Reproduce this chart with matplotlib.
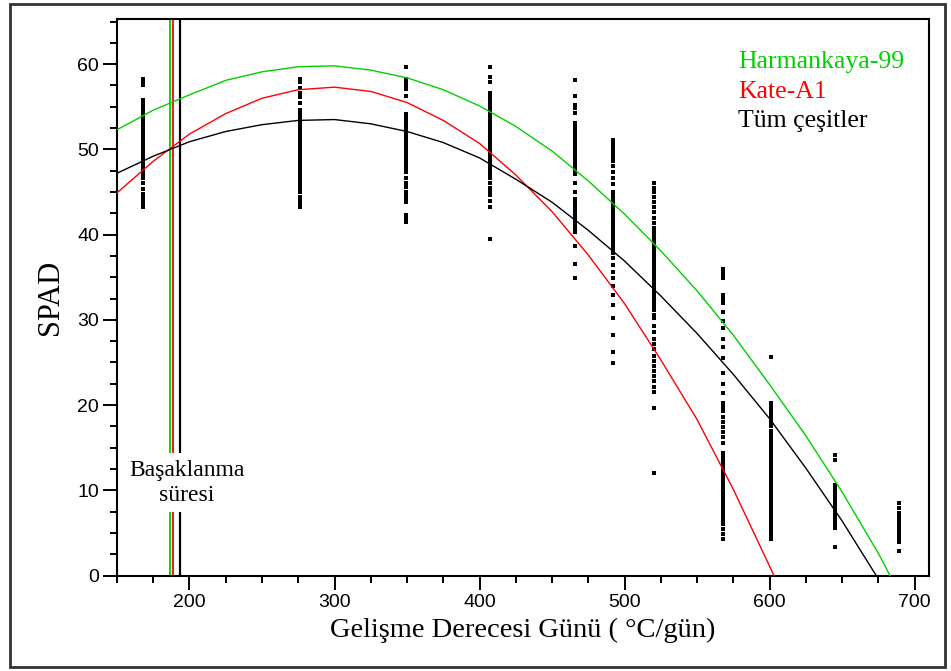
import matplotlib
matplotlib.use("Agg")
import matplotlib.pyplot as plt
from matplotlib.patches import Rectangle

# ---- data ----
col_x = [168, 276, 349, 407, 466, 492, 520, 568, 601, 645, 689]
col_y = [
    [58.3, 57.9, 57.5, 55.8, 55.4, 55.0, 54.6, 54.2, 53.8, 53.4, 53.0, 52.6, 52.2, 51.8, 51.4, 51.0,
     50.6, 50.2, 49.8, 49.4, 49.0, 48.6, 48.2, 47.8, 47.4, 47.0, 46.6, 46.0, 45.4, 44.8, 44.4, 44.0,
     43.6, 43.2],
    [58.3, 57.9, 57.2, 56.6, 56.1, 55.5, 54.6, 54.2, 53.8, 53.4, 53.0, 52.6, 52.2, 51.8, 51.4, 51.1,
     50.6, 50.2, 49.8, 49.4, 49.0, 48.6, 48.2, 47.8, 47.4, 47.0, 46.6, 46.2, 45.8, 45.4, 45.0, 44.4,
     44.0, 43.6, 43.2],
    [59.7, 58.3, 57.9, 57.5, 57.1, 56.3, 54.2, 53.8, 53.4, 53.0, 52.6, 52.2, 51.8, 51.4, 51.0, 50.6,
     50.2, 49.8, 49.4, 49.0, 48.6, 48.2, 47.8, 47.4, 46.7, 46.1, 45.6, 45.0, 44.6, 44.2, 43.8, 42.3,
     41.9, 41.5],
    [59.7, 58.5, 57.9, 56.6, 56.2, 55.8, 55.4, 55.0, 54.6, 54.2, 53.8, 53.4, 53.0, 52.6, 52.2, 51.8,
     51.4, 51.0, 50.6, 50.2, 49.8, 49.4, 49.0, 48.6, 48.2, 47.8, 47.4, 47.0, 46.7, 46.1, 45.5, 45.1,
     44.6, 44.0, 43.2, 39.5],
    [58.1, 56.3, 55.2, 54.8, 54.3, 53.1, 52.7, 52.3, 51.9, 51.5, 51.1, 50.7, 50.3, 49.9, 49.5, 49.1,
     48.7, 48.3, 47.9, 47.5, 47.1, 46.1, 45.0, 44.2, 43.8, 43.4, 43.0, 42.6, 42.2, 41.8, 41.4, 41.0,
     40.6, 40.3, 38.7, 36.6, 34.9],
    [51.1, 50.7, 50.3, 49.9, 49.5, 49.1, 48.6, 48.1, 47.3, 46.6, 45.9, 45.0, 44.6, 44.2, 43.8, 43.4,
     43.0, 42.6, 42.2, 41.8, 41.4, 41.0, 40.6, 40.2, 39.8, 39.4, 39.0, 38.6, 38.2, 37.8, 37.2, 36.4,
     35.6, 34.9, 34.0, 32.9, 31.7, 30.2, 28.2, 26.2, 24.9],
    [46.0, 45.5, 45.0, 44.4, 43.8, 43.2, 42.6, 41.9, 41.4, 40.8, 40.3, 39.9, 39.5, 39.1, 38.7, 38.3,
     37.9, 37.5, 37.1, 36.7, 36.3, 35.9, 35.5, 35.1, 34.7, 34.3, 33.9, 33.5, 33.1, 32.7, 32.3, 31.9,
     31.5, 31.1, 30.6, 30.2, 29.3, 28.6, 27.8, 27.2, 26.6, 25.8, 25.2, 24.6, 24.0, 23.4, 22.8, 22.1,
     21.5, 19.6, 12.0],
    [36.0, 35.6, 35.2, 34.9, 32.9, 32.4, 32.0, 30.9, 29.9, 29.0, 27.8, 26.8, 25.5, 23.8, 22.5, 21.4,
     20.2, 19.8, 19.3, 18.6, 18.0, 17.4, 16.8, 16.2, 15.6, 14.4, 14.0, 13.6, 13.2, 12.8, 12.4, 12.0,
     11.6, 11.2, 10.8, 10.4, 10.0, 9.6, 9.2, 8.8, 8.4, 8.0, 7.6, 7.2, 6.8, 6.4, 6.0, 5.5, 4.9, 4.3],
    [25.6, 20.2, 19.8, 19.4, 19.0, 18.5, 18.0, 17.5, 17.0, 16.6, 16.2, 15.8, 15.3, 14.8, 14.4, 14.0,
     13.6, 13.2, 12.8, 12.4, 12.0, 11.6, 11.2, 10.8, 10.4, 10.0, 9.6, 9.2, 8.8, 8.4, 8.0, 7.6, 7.2,
     6.8, 6.4, 6.0, 5.6, 5.2, 4.8, 4.3],
    [14.1, 13.5, 10.6, 10.2, 9.8, 9.4, 9.0, 8.6, 8.2, 7.8, 7.4, 7.0, 6.6, 6.2, 5.8, 5.6, 3.3],
    [8.5, 7.9, 7.3, 6.9, 6.5, 6.1, 5.7, 5.3, 4.9, 4.5, 4.1, 3.9, 2.9],
]

green_x = [150, 175, 200, 225, 250, 275, 300, 325, 350, 375, 400, 425, 450, 475, 500, 525, 550,
           575, 600, 625, 650, 675, 683]
green_y = [52.3, 54.6, 56.4, 58.1, 59.1, 59.7, 59.8, 59.3, 58.4, 57.0, 55.1, 52.7, 49.8, 46.3, 42.4,
           38.1, 33.4, 28.2, 22.4, 16.4, 9.8, 2.6, 0.0]

red_x = [150, 175, 200, 225, 250, 275, 300, 325, 350, 375, 400, 425, 450, 475, 500, 525, 550, 575,
         590, 603]
red_y = [44.9, 48.6, 51.8, 54.2, 56.0, 57.0, 57.3, 56.8, 55.5, 53.4, 50.7, 47.0, 42.7, 37.6, 31.9,
         25.3, 18.3, 10.1, 4.7, 0.0]

black_x = [150, 175, 200, 225, 250, 275, 300, 325, 350, 375, 400, 425, 450, 475, 500, 525, 550,
           575, 600, 625, 650, 673.5]
black_y = [47.2, 49.2, 50.9, 52.1, 52.9, 53.4, 53.5, 53.0, 52.1, 50.8, 49.0, 46.5, 43.8, 40.5, 36.9,
           32.8, 28.4, 23.6, 18.4, 12.6, 6.4, 0.0]

heading_x = {"green": 186.3, "red": 188.6, "black": 193.8}
series_names = ["Harmankaya-99", "Kate-A1", "Tüm çeşitler"]
xlabel = "Gelişme Derecesi Günü ( °C/gün)"
ylabel = "SPAD"
annot = "Başaklanma\nsüresi"

GREEN = "#00d000"
RED = "#ff0000"
BLACK = "#000000"

serif = ["Liberation Serif", "DejaVu Serif"]
sans = ["Liberation Sans", "DejaVu Sans"]

fig = plt.figure(figsize=(9.51, 6.71), dpi=100)
ax = fig.add_axes([0.123, 0.1423, 0.854, 0.8294])

# vertical heading lines, broken around the annotation
for key, col, lw in [("green", GREEN, 1.3), ("red", RED, 1.3), ("black", BLACK, 1.6)]:
    ax.vlines(heading_x[key], 0, 7.4, color=col, lw=lw, zorder=2)
    ax.vlines(heading_x[key], 14.4, 66, color=col, lw=lw, zorder=2)

for x, ys in zip(col_x, col_y):
    ax.plot([x] * len(ys), ys, linestyle="none", marker="s", ms=3.4, color="black",
            markeredgewidth=0, zorder=3)

ax.plot(green_x, green_y, color=GREEN, lw=1.0, zorder=4)
ax.plot(red_x, red_y, color=RED, lw=1.0, zorder=4)
ax.plot(black_x, black_y, color=BLACK, lw=1.0, zorder=4)

ax.set_xlim(150, 710)
ax.set_ylim(0, 65.3)
ax.set_xticks([200, 300, 400, 500, 600, 700])
ax.set_xticks([x for x in range(150, 711, 25)], minor=True)
ax.set_yticks([0, 10, 20, 30, 40, 50, 60])
ax.set_yticks([v * 2.5 for v in range(0, 27)], minor=True)
ax.tick_params(which="major", direction="out", length=10, width=1.4, labelsize=14, pad=3)
ax.tick_params(which="minor", direction="out", length=5, width=1.4)
for lab in ax.get_xticklabels() + ax.get_yticklabels():
    lab.set_family(sans)
for s in ax.spines.values():
    s.set_linewidth(1.5)

ax.set_xlabel(xlabel, family=serif, fontsize=20.5, labelpad=5)
ax.set_ylabel(ylabel, family=serif, fontsize=22, labelpad=9)

ax.text(198, 10.9, annot, family=serif, fontsize=17, ha="center", va="center",
        linespacing=1.25, zorder=5)

leg_cols = [GREEN, RED, BLACK]
leg_y = [60.2, 56.7, 53.3]
for name, col, yy in zip(series_names, leg_cols, leg_y):
    ax.text(578.5, yy, name, family=serif, fontsize=18.5, color=col, ha="left", va="center")

# outer frame
fig.patches.append(Rectangle((0.011, 0.006), 0.983, 0.988, transform=fig.transFigure,
                             fill=False, edgecolor="#333333", lw=2.0))

fig.savefig("out.png", dpi=100)
